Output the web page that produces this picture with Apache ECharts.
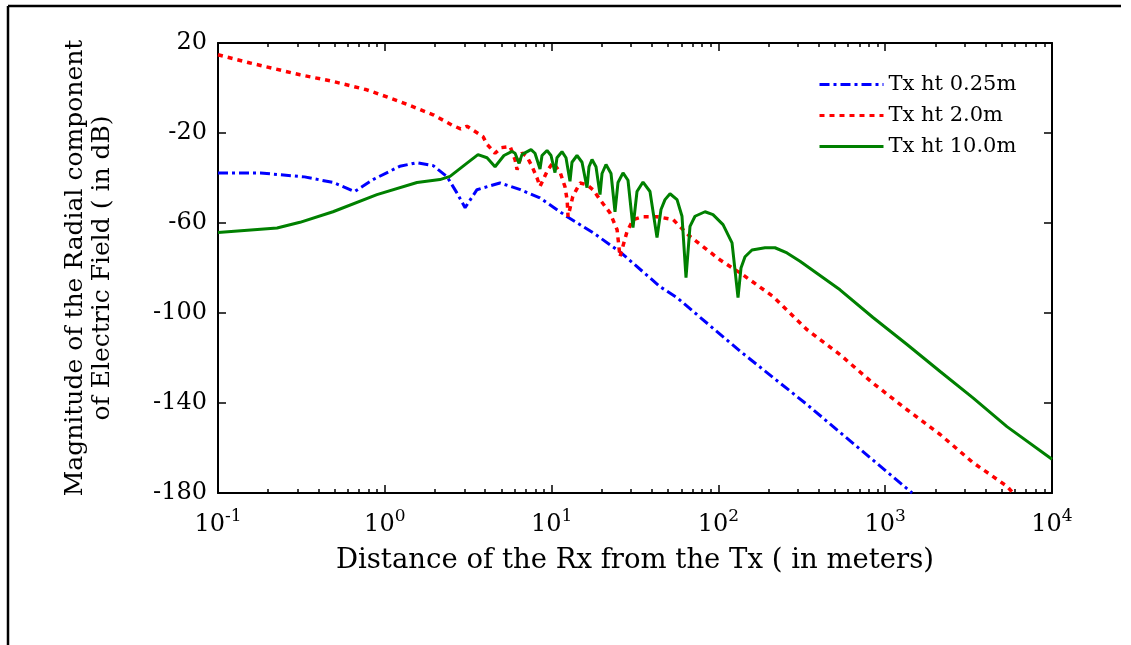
<!DOCTYPE html>
<html><head><meta charset="utf-8">
<script src="https://cdn.jsdelivr.net/npm/echarts@6/dist/echarts.min.js"></script>
<style>html,body{margin:0;padding:0;background:#fff}#c{width:1131px;height:645px}</style>
</head><body><div id="c"></div>
<script>
const seriesNames = ['Tx ht 0.25m', 'Tx ht 2.0m', 'Tx ht 10.0m'];
const xTitle = 'Distance of the Rx from the Tx ( in meters)';
const yTitle = 'Magnitude of the Radial component\nof Electric Field ( in dB)';
const yTicks = [-180, -140, -100, -60, -20, 20];
const xDecades = [0.1, 1, 10, 100, 1000, 10000];

const blueX = [0.1, 0.18, 0.33, 0.49, 0.66, 0.85, 1.23, 1.56, 1.95, 2.36, 2.7, 3.03, 3.57, 4.9, 6.5, 8.5, 12.4, 17.7, 25.7, 44.7, 56.5, 135, 340, 1450];
const blueY = [-37.8, -37.8, -39.5, -42, -46, -40.7, -34.8, -33.2, -34.5, -39.4, -46.5, -53.2, -45.2, -42.2, -45.2, -48.8, -57.2, -64.3, -72.8, -88.3, -93.2, -117, -140.7, -180];

const redX = [0.1, 0.156, 0.31, 0.49, 0.78, 1.23, 1.95, 2.53, 2.85, 3.11, 3.88, 4.1, 4.58, 5.0, 5.64, 6.04, 6.21, 6.65, 7.12, 7.64, 8.17, 8.52, 9.5, 10.2, 11.23, 12.03, 12.4, 12.55, 13.4, 14.8, 16.3, 17.7, 19.5, 22.4, 24.7, 25.7, 28.3, 30.8, 35.3, 42.9, 53.5, 67.6, 102, 140, 212, 340, 536, 845, 1352, 2135, 3360, 5370, 5840];
const redY = [14.8, 11.1, 5.9, 2.9, -0.8, -6, -11.9, -16.5, -18.2, -17, -21.6, -25, -29, -26.5, -26, -31.9, -36.3, -28.8, -30.5, -34.9, -39.9, -43.8, -36.3, -33.2, -37.3, -43.9, -50, -57.2, -48.2, -42.2, -43, -45.2, -49.6, -55.5, -63, -75, -63.9, -58.5, -57.2, -57.2, -58.5, -66, -76.3, -83, -92.6, -107.4, -118.5, -131.2, -143, -154, -166.5, -177, -180];

const greenX = [0.1, 0.226, 0.31, 0.489, 0.897, 1.56, 2.14, 2.46, 3.11, 3.62, 4.1, 4.58,
  5.18, 5.79, 6.04, 6.38, 6.65, 7.53, 7.95, 8.52, 8.76, 9.39, 9.92, 10.48,
  10.77, 11.54, 12.2, 12.89, 13.25, 14.2, 15.22, 16.3, 16.76, 17.47, 18.46, 19.51,
  20.06, 21.19, 22.71, 23.99, 25.01, 26.8, 28.71, 30.76, 32.51, 35.32, 38.89, 42.85,
  45.28, 47.86, 51.28, 56.5, 60.5, 63.94, 67.56, 72.4, 83.13, 92.8, 106.6, 120.7, 131.1,
  136.6, 144.4, 159, 190.3, 218.4, 257.8, 308.5, 536, 845, 1352, 2135, 3360, 5370, 10000];
const greenY = [-64.2, -62.2, -59.7, -55, -47.4, -42, -40.7, -39.3, -33.4, -29.6, -31, -35,
  -30, -28.2, -29, -33.5, -29.5, -27.4, -29, -36, -30, -27.8, -30, -37.6,
  -31, -28.3, -31, -41.5, -33, -30, -33, -44.3, -35, -31.8, -35, -47.4,
  -38, -34, -38, -55, -42, -37.7, -41, -62, -46, -41.8, -46, -66.5,
  -54, -49.6, -47, -49.6, -57, -84.3, -61.5, -57, -55, -56.3, -60.7, -68.8, -93.2,
  -80, -75, -72, -71, -71, -73.3, -77, -89.7, -102, -114, -126, -137.7, -150.5, -165];

const zip = (xs, ys) => xs.map((x, i) => [x, ys[i]]);
const FONT = 'DejaVu Serif';
const minorTicks = [];
for (let d = 0; d < xDecades.length - 1; d++) {
  for (let k = 2; k <= 9; k++) minorTicks.push(xDecades[d] * k);
}

const chart = echarts.init(document.getElementById('c'), null, {renderer: 'canvas'});

function xAxisDef(pos, major, withLabels) {
  return {
    type: 'log', logBase: 10, min: 0.1, max: 10000, position: pos,
    axisLine: {show: major, onZero: false, lineStyle: {color: '#000', width: 2}},
    axisTick: {show: true, inside: true, length: major ? 8 : 4,
      customValues: major ? xDecades : minorTicks,
      lineStyle: {color: '#000', width: 1.5}},
    axisLabel: withLabels ? {
      customValues: xDecades, margin: 15, color: '#000',
      formatter: v => '{b|10}{s|' + Math.round(Math.log10(v)) + '}',
      rich: {
        b: {fontSize: 24, fontFamily: FONT, color: '#000', lineHeight: 34},
        s: {fontSize: 17, fontFamily: FONT, color: '#000', verticalAlign: 'top'}
      }
    } : {show: false},
    splitLine: {show: false},
    name: withLabels ? xTitle : '',
    nameLocation: 'middle', nameGap: 54,
    nameTextStyle: {fontSize: 27.5, fontFamily: FONT, color: '#000'}
  };
}
function yAxisDef(pos, withLabels) {
  return {
    type: 'value', min: -180, max: 20, position: pos,
    axisLine: {show: true, onZero: false, lineStyle: {color: '#000', width: 2}},
    axisTick: {show: true, inside: true, length: 8, customValues: yTicks,
      lineStyle: {color: '#000', width: 1.5}},
    axisLabel: withLabels ? {customValues: yTicks, margin: 11, color: '#000',
      fontSize: 24, fontFamily: FONT} : {show: false},
    splitLine: {show: false},
    name: withLabels ? yTitle : '',
    nameLocation: 'middle', nameGap: 102,
    nameTextStyle: {fontSize: 25, fontFamily: FONT, color: '#000', lineHeight: 27}
  };
}

chart.setOption({
  animation: false,
  backgroundColor: '#fff',
  grid: {left: 218, right: 79, top: 43, bottom: 152, containLabel: false},
  xAxis: [xAxisDef('bottom', true, true), xAxisDef('bottom', false, false),
          xAxisDef('top', true, false), xAxisDef('top', false, false)],
  yAxis: [yAxisDef('left', true), yAxisDef('right', false)],
  legend: {
    orient: 'vertical', left: 818, top: 74, padding: 0,
    itemWidth: 64, itemHeight: 20, itemGap: 10,
    itemStyle: {opacity: 0},
    lineStyle: {width: 3},
    textStyle: {fontSize: 21, fontFamily: FONT, color: '#000'},
    data: seriesNames
  },
  graphic: [
    {type: 'line', shape: {x1: 8, y1: 6, x2: 1121, y2: 6}, style: {stroke: '#000', lineWidth: 2.5}},
    {type: 'line', shape: {x1: 8, y1: 6, x2: 8, y2: 645}, style: {stroke: '#000', lineWidth: 2.5}}
  ],
  series: [
    {name: seriesNames[0], type: 'line', xAxisIndex: 0, yAxisIndex: 0, symbol: 'none',
     data: zip(blueX, blueY), itemStyle: {color: '#0000ff'},
     lineStyle: {color: '#0000ff', width: 3, type: [10, 4, 3, 4]}},
    {name: seriesNames[1], type: 'line', xAxisIndex: 0, yAxisIndex: 0, symbol: 'none',
     data: zip(redX, redY), itemStyle: {color: '#ff0000'},
     lineStyle: {color: '#ff0000', width: 3.5, type: [5, 5]}},
    {name: seriesNames[2], type: 'line', xAxisIndex: 0, yAxisIndex: 0, symbol: 'none',
     data: zip(greenX, greenY), itemStyle: {color: '#008000'},
     lineStyle: {color: '#008000', width: 3, type: 'solid'}}
  ]
});
</script></body></html>
